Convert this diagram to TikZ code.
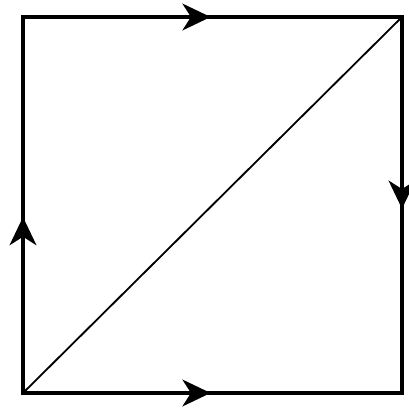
\documentclass[tikz,border=0pt]{standalone}
\usetikzlibrary{arrows.meta,decorations.markings}
\tikzset{
  edge/.style={line width=2.6pt,line cap=rect},
  diag/.style={line width=1.3pt},
  midarrow/.style={postaction={decorate},decoration={markings,
    mark=at position #1 with {\arrow{Stealth[length=20pt,width=19pt,inset=6pt]}}}}
}
\begin{document}
\begin{tikzpicture}[x=0.025cm,y=-0.025cm]
\useasboundingbox (0,0) rectangle (409,408);
% corners of the square
\coordinate (bl) at (23,393);
\coordinate (br) at (402,393);
\coordinate (tr) at (402,17);
\coordinate (tl) at (23,17);
% sides
\draw[edge,midarrow=0.495] (tl) -- (tr);
\draw[edge,midarrow=0.51] (tr) -- (br);
\draw[edge,midarrow=0.495] (bl) -- (br);
\draw[edge,midarrow=0.468] (bl) -- (tl);
% diagonal
\draw[diag] (bl) -- (tr);
\end{tikzpicture}
\end{document}
